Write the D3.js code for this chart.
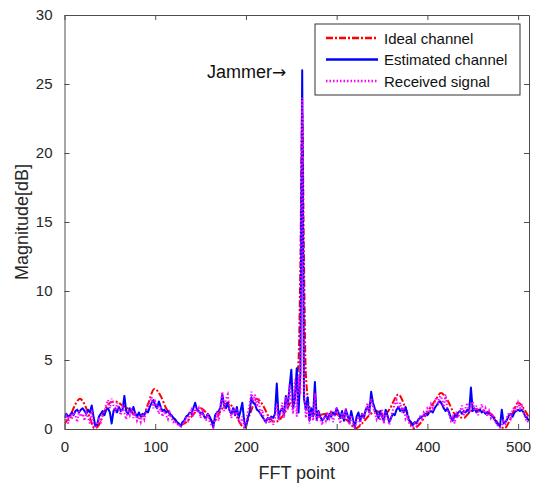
<!DOCTYPE html>
<html>
<head>
<meta charset="utf-8">
<script src="https://cdn.jsdelivr.net/npm/d3@7"></script>
<style>
  body { margin: 0; background: #fff; }
  text { font-family: "Liberation Sans", Arial, sans-serif; }
</style>
</head>
<body>
<div id="chart"></div>
<script>
// Ideal channel: smooth curve, knots
let idealN = [0, 6, 12, 17, 22, 28, 33, 38, 44, 50, 56, 64, 72, 80, 86, 92, 99, 106, 112, 120,
  128, 136, 144, 150, 156, 164, 172, 180, 186, 192, 198, 204, 212, 218, 226, 232, 240, 248, 254,
  258, 260, 262, 264, 266, 270, 278, 288, 296, 304, 312, 321, 328, 336, 344, 352, 358, 368, 376,
  385, 392, 400, 408, 415, 422, 430, 440, 448, 456, 464, 472, 479, 485, 492, 500, 506, 512],
idealMag = [0.4, 0.9, 1.8, 2.2, 1.8, 0.8, 0.05, 0.3, 1.3, 1.9, 2.0, 1.7, 1.4, 0.9, 0.9, 1.8, 2.9, 2.4, 1.5, 0.8,
  0.3, 0.6, 1.2, 1.5, 1.2, 0.5, 1.3, 1.9, 1.5, 0.6, 0.1, 1.0, 2.2, 1.8, 0.8, 0.5, 0.9, 1.8, 2.5,
  5.0, 12.0, 23.0, 12.0, 4.0, 1.6, 1.0, 1.1, 1.2, 0.9, 0.6, 0.05, 0.4, 1.0, 1.3, 1.0, 1.4, 2.5, 1.5,
  0.05, 0.4, 1.2, 2.0, 2.6, 2.1, 1.1, 0.8, 1.3, 1.4, 1.3, 1.0, 0.3, 0.05, 0.8, 1.9, 1.5, 0.8],

// Estimated channel, every 2nd FFT point (0..512)
estimatedMag = [
  0.8, 1.1, 0.9, 1.0, 1.2, 1.0, 1.3, 1.4, 1.2, 1.4, 1.5, 1.3, 1.1, 1.4, 1.2, 1.7,
  0.9, 0.2, 0.3, 0.9, 1.1, 1.3, 1.0, 1.4, 1.5, 1.2, 0.4, 1.3, 1.5, 1.2, 1.6, 1.3,
  1.4, 2.4, 1.3, 1.1, 1.5, 1.2, 1.6, 1.1, 0.9, 1.2, 0.9, 1.1, 1.0, 1.3, 1.2, 1.6,
  1.9, 2.1, 1.7, 1.5, 2.0, 1.6, 1.3, 1.4, 1.2, 1.3, 1.1, 1.0, 0.8, 0.7, 0.5, 0.4,
  0.2, 0.5, 0.6, 0.9, 1.0, 1.2, 1.1, 1.5, 1.9, 1.4, 1.3, 1.1, 1.2, 0.9, 0.8, 1.1,
  0.9, 0.6, 0.1, 1.0, 1.2, 1.3, 1.6, 2.5, 1.7, 1.5, 1.9, 1.3, 1.1, 1.5, 1.0, 1.6,
  0.8, 1.3, 1.9, 0.6, 0.1, 0.8, 1.2, 2.3, 1.9, 1.8, 1.4, 1.3, 1.1, 0.9, 0.7, 0.5,
  0.8, 0.7, 0.9, 0.8, 1.1, 3.3, 0.8, 1.3, 1.5, 1.1, 2.4, 1.6, 3.0, 4.3, 1.5, 2.2,
  4.4, 1.2, 4.0, 26.0, 2.2, 1.4, 2.3, 0.6, 1.5, 0.9, 3.4, 0.7, 1.3, 0.9, 0.6, 0.8,
  1.0, 0.7, 1.1, 0.9, 1.2, 1.0, 1.5, 1.2, 0.8, 1.3, 0.6, 1.4, 1.0, 0.5, 1.3, 0.7,
  0.1, 0.9, 1.2, 0.6, 1.1, 0.8, 1.4, 1.6, 1.2, 2.7, 1.9, 1.5, 1.2, 0.8, 1.3, 0.9,
  0.6, 1.4, 1.0, 0.5, 0.8, 1.1, 1.0, 1.4, 1.6, 1.3, 1.5, 1.2, 1.6, 1.0, 0.6, 0.5,
  0.3, 0.5, 0.4, 0.7, 0.8, 0.9, 1.0, 1.1, 1.0, 1.2, 1.3, 1.2, 1.5, 1.7, 1.9, 2.0,
  1.8, 1.5, 1.3, 1.5, 1.2, 0.8, 0.6, 1.0, 0.9, 1.2, 1.3, 1.1, 1.3, 1.2, 1.4, 1.2,
  3.0, 1.3, 1.5, 1.2, 1.3, 1.4, 1.2, 1.3, 1.1, 1.2, 1.1, 1.0, 0.9, 0.7, 0.5, 0.3,
  0.2, 1.4, 0.4, 0.5, 0.7, 1.0, 1.1, 0.9, 1.2, 1.3, 1.4, 1.3, 1.4, 1.2, 0.9, 0.8,
  0.6],

// Received signal, every 2nd FFT point (0..512)
receivedMag = [
  0.6, 0.9, 0.4, 1.1, 0.7, 1.2, 1.0, 0.5, 1.3, 0.9, 1.1, 0.6, 1.2, 0.8, 0.4, 1.4,
  0.2, 0.1, 0.3, 0.7, 0.5, 1.0, 1.3, 1.8, 2.1, 1.5, 2.2, 1.7, 1.2, 1.9, 1.4, 1.0,
  1.6, 1.2, 0.7, 1.4, 1.0, 1.5, 0.8, 1.2, 0.6, 0.9, 0.5, 1.1, 0.7, 1.3, 1.6, 1.9,
  2.3, 1.5, 2.0, 1.7, 1.1, 1.6, 0.9, 1.3, 1.0, 0.7, 1.2, 0.8, 0.5, 0.6, 0.3, 0.4,
  0.1, 0.3, 0.5, 0.8, 0.6, 1.1, 1.4, 0.9, 1.6, 1.2, 1.5, 0.8, 1.3, 0.9, 0.6, 1.1,
  0.5, 0.3, 0.1, 0.7, 1.1, 0.6, 1.8, 2.7, 1.3, 2.2, 2.5, 1.4, 0.8, 1.6, 1.0, 1.4,
  0.6, 0.3, 0.9, 0.2, 0.4, 1.2, 1.7, 2.7, 2.0, 2.5, 1.6, 2.2, 1.0, 1.4, 0.7, 0.5,
  1.0, 0.4, 0.9, 0.3, 0.8, 1.8, 0.6, 1.2, 1.9, 0.8, 2.3, 1.4, 3.2, 2.0, 1.1, 3.6,
  0.9, 3.8, 2.5, 24.0, 3.0, 0.8, 1.9, 0.4, 1.3, 0.6, 2.6, 0.5, 1.1, 0.7, 0.3, 0.9,
  0.6, 1.2, 0.8, 1.4, 0.5, 1.1, 1.6, 0.9, 0.4, 1.2, 0.7, 1.5, 0.8, 0.3, 1.0, 0.4,
  0.1, 0.6, 0.9, 0.3, 1.2, 0.7, 1.3, 1.9, 1.0, 2.2, 1.6, 1.2, 0.7, 1.1, 0.6, 1.4,
  0.4, 1.2, 0.8, 0.3, 0.9, 1.4, 1.8, 2.1, 1.5, 1.9, 1.2, 1.6, 0.7, 0.9, 0.4, 0.2,
  0.1, 0.4, 0.2, 0.6, 0.9, 0.7, 1.2, 1.0, 1.5, 1.3, 1.8, 1.5, 2.0, 2.3, 1.9, 2.4,
  2.2, 1.6, 2.5, 1.4, 1.0, 0.6, 0.9, 0.4, 1.1, 0.8, 1.3, 1.7, 1.0, 1.5, 1.9, 1.2,
  1.6, 2.0, 1.3, 1.7, 1.0, 1.4, 1.8, 1.2, 1.5, 0.9, 1.3, 0.8, 1.1, 0.6, 0.4, 0.2,
  0.1, 0.3, 0.6, 0.4, 0.9, 1.2, 0.8, 1.4, 1.6, 1.3, 1.9, 1.5, 1.7, 1.2, 0.8, 0.5,
  0.7],

xTicks = [0, 100, 200, 300, 400, 500],
yTicks = [0, 5, 10, 15, 20, 25, 30],
seriesNames = ['Ideal channel', 'Estimated channel', 'Received signal'],
jammerNote = 'Jammer',
jammerAt = [262, 26];

// Figure size and plot box
let w = 538,
h = 488,
box = { left: 64.5, right: 529, top: 15, bottom: 429 },

x = d3.scaleLinear().domain([0, 512]).range([box.left, box.right]),
y = d3.scaleLinear().domain([0, 30]).range([box.bottom, box.top]),

svg = d3.select('#chart').
append('svg').
attr('width', w).
attr('height', h);

// Clip lines to the axes box
svg.append('clipPath').
attr('id', 'clip').
append('rect').
attr('x', box.left).
attr('y', box.top).
attr('width', box.right - box.left).
attr('height', box.bottom - box.top);

// Turn value arrays into point lists (FFT index = position * 2)
let idealPts = idealN.map((n, i) => [n, idealMag[i]]),
estPts = estimatedMag.map((v, i) => [i * 2, v]),
recPts = receivedMag.map((v, i) => [i * 2, v]),

line = d3.line().x(d => x(d[0])).y(d => y(d[1])),
smooth = d3.line().x(d => x(d[0])).y(d => y(d[1])).curve(d3.curveMonotoneX),

styles = [
  { color: '#ff0000', dash: '7,2,2,2', width: 2 },
  { color: '#0000ff', dash: null, width: 2 },
  { color: '#ff00ff', dash: '1.5,2', width: 2 }],

plot = svg.append('g').attr('clip-path', 'url(#clip)');

plot.append('path').
attr('d', smooth(idealPts)).
attr('fill', 'none').
attr('stroke', styles[0].color).
attr('stroke-width', styles[0].width).
attr('stroke-dasharray', styles[0].dash);

plot.append('path').
attr('d', line(estPts)).
attr('fill', 'none').
attr('stroke', styles[1].color).
attr('stroke-width', styles[1].width).
attr('stroke-linejoin', 'round');

plot.append('path').
attr('d', line(recPts)).
attr('fill', 'none').
attr('stroke', styles[2].color).
attr('stroke-width', styles[2].width).
attr('stroke-dasharray', styles[2].dash);

// Axes: ticks pointing inward, mirrored on top/right
let axisColor = '#4d4d4d',
tickColor = '#262626';

svg.append('g').
attr('transform', 'translate(0,' + box.bottom + ')').
call(d3.axisBottom(x).tickValues(xTicks).tickSizeInner(-5).tickSizeOuter(0).tickPadding(12)).
call(g => g.selectAll('text').attr('font-size', 15).attr('fill', tickColor));

svg.append('g').
attr('transform', 'translate(0,' + box.top + ')').
call(d3.axisTop(x).tickValues(xTicks).tickSizeInner(-5).tickSizeOuter(0).tickFormat(''));

svg.append('g').
attr('transform', 'translate(' + box.left + ',0)').
call(d3.axisLeft(y).tickValues(yTicks).tickSizeInner(-5).tickSizeOuter(0).tickPadding(12)).
call(g => g.selectAll('text').attr('font-size', 15).attr('fill', tickColor));

svg.append('g').
attr('transform', 'translate(' + box.right + ',0)').
call(d3.axisRight(y).tickValues(yTicks).tickSizeInner(-5).tickSizeOuter(0).tickFormat(''));

svg.selectAll('.domain, .tick line').attr('stroke', axisColor);

// Axis labels
svg.append('text').
attr('x', (box.left + box.right) / 2).
attr('y', 479).
attr('text-anchor', 'middle').
attr('font-size', 18).
attr('fill', tickColor).
text('FFT point');

svg.append('text').
attr('transform', 'translate(28,' + (box.top + box.bottom) / 2 + ') rotate(-90)').
attr('text-anchor', 'middle').
attr('font-size', 18).
attr('fill', tickColor).
text('Magnitude[dB]');

// Jammer annotation, arrow pointing at the spike
let note = svg.append('text').
attr('x', x(jammerAt[0]) - 16).
attr('y', y(jammerAt[1]) + 8).
attr('text-anchor', 'end').
attr('font-size', 18).
attr('fill', '#111');

note.append('tspan').text(jammerNote);
note.append('tspan').
style('font-family', '"DejaVu Sans", sans-serif').
attr('font-size', 17).
text('\u2192');

// Legend box
let legend = svg.append('g').attr('transform', 'translate(315,24)');

legend.append('rect').
attr('width', 205).
attr('height', 71).
attr('fill', '#fff').
attr('stroke', '#333').
attr('stroke-width', 1);

let items = legend.selectAll('g.item').
data(seriesNames).
enter().
append('g').
attr('class', 'item').
attr('transform', (d, i) => 'translate(0,' + (14 + i * 21.5) + ')');

items.append('line').
attr('x1', 11).
attr('x2', 63).
attr('stroke', (d, i) => styles[i].color).
attr('stroke-width', 2.5).
attr('stroke-dasharray', (d, i) => styles[i].dash);

items.append('text').
attr('x', 69).
attr('y', 5.5).
attr('font-size', 15).
attr('fill', '#111').
text(d => d);
</script>
</body>
</html>
